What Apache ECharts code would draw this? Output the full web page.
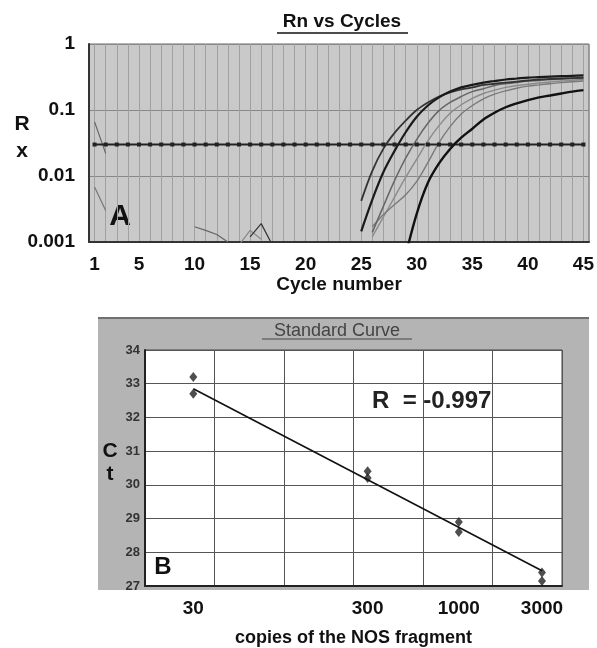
<!DOCTYPE html>
<html>
<head>
<meta charset="utf-8">
<script src="https://cdn.jsdelivr.net/npm/echarts@6/dist/echarts.min.js"></script>
<style>
html, body { margin: 0; padding: 0; background: #fff; }
#chart { width: 597px; height: 648px; }
</style>
</head>
<body>
<div id="chart"></div>
<script>
var FONT = "'Liberation Sans', Arial, sans-serif";

// ---- A: Rn vs Cycles ----
var cycleTicks = [1, 5, 10, 15, 20, 25, 30, 35, 40, 45];
var threshold = 0.03;
// curves, values read per cycle
var curve1 = [0.0042, 0.012, 0.026, 0.045, 0.069, 0.10, 0.13, 0.16, 0.185, 0.205, 0.22, 0.24, 0.25, 0.26, 0.27, 0.28, 0.29, 0.295, 0.30, 0.305, 0.31]; // from 25
var curve2 = [0.00145, 0.0044, 0.0115, 0.024, 0.046, 0.079, 0.117, 0.155, 0.19, 0.22, 0.24, 0.26, 0.275, 0.29, 0.30, 0.31, 0.315, 0.32, 0.325, 0.33, 0.335]; // from 25
var curve3 = [0.0014, 0.0035, 0.0085, 0.0186, 0.036, 0.063, 0.098, 0.13, 0.16, 0.19, 0.21, 0.235, 0.25, 0.26, 0.275, 0.28, 0.29, 0.295, 0.30, 0.30]; // from 26
var curve4 = [0.0012, 0.0024, 0.0048, 0.0095, 0.018, 0.034, 0.058, 0.089, 0.12, 0.15, 0.178, 0.20, 0.22, 0.235, 0.245, 0.257, 0.266, 0.275, 0.282, 0.29]; // from 26
var curve5 = [0.0017, 0.0026, 0.0037, 0.0052, 0.0083, 0.016, 0.032, 0.056, 0.087, 0.117, 0.148, 0.174, 0.195, 0.214, 0.23, 0.24, 0.25, 0.26, 0.268, 0.275]; // from 26
var curve6 = [0.00063, 0.0027, 0.0079, 0.0155, 0.0257, 0.038, 0.052, 0.072, 0.091, 0.11, 0.126, 0.141, 0.155, 0.166, 0.178, 0.19, 0.20]; // from 29
// baseline noise
var noise1 = [[1, 0.066], [2, 0.022]];
var noise2 = [[1, 0.0068], [2, 0.0030]];
var noise3 = [[10, 0.0017], [11, 0.0015], [12, 0.0013], [13, 0.001]];
var noise4 = [[15, 0.0012], [16, 0.0019], [17, 0.0009]];
var noise5 = [[14, 0.0009], [15, 0.0015], [16, 0.0011]];

// ---- B: Standard Curve ----
var copies = [30, 30, 300, 300, 1000, 1000, 3000, 3000];
var ctValues = [33.2, 32.7, 30.4, 30.2, 28.9, 28.6, 27.4, 27.15];
var fitCopies = [30, 3000];
var fitCt = [32.85, 27.45];
var copyTicks = [30, 300, 1000, 3000];

function fromCycle(start, values) {
	return values.map(function(v, i) { return [start + i, v]; });
}
function zip(xs, ys) {
	return xs.map(function(x, i) { return [x, ys[i]]; });
}
var thresholdData = [];
for (var c = 1; c <= 45; c++) thresholdData.push([c, threshold]);

function curve(data, color, width) {
	return {
		type: 'line', xAxisIndex: 0, yAxisIndex: 0, data: data,
		symbol: 'none', smooth: 0.35,
		lineStyle: { color: color, width: width }
	};
}
function noise(data, color) {
	return {
		type: 'line', xAxisIndex: 0, yAxisIndex: 0, data: data,
		symbol: 'none', lineStyle: { color: color, width: 1.2 }
	};
}

var option = {
	animation: false,
	grid: [
		{ left: 89, top: 44, width: 503, height: 198, show: true, backgroundColor: '#c9c9c9', borderColor: '#666', borderWidth: 1 },
		{ left: 145, top: 350, width: 417, height: 236, show: true, backgroundColor: '#fff', borderColor: '#444', borderWidth: 1 }
	],
	xAxis: [{
		gridIndex: 0, type: 'value', min: 0.5, max: 45.5, splitNumber: 45, minInterval: 1, maxInterval: 1,
		axisLine: { lineStyle: { color: '#333', width: 2 } },
		axisTick: { show: false },
		axisLabel: {
			fontFamily: FONT, fontWeight: 'bold', color: '#111', fontSize: 19, margin: 13,
			formatter: function(v) { return cycleTicks.indexOf(v) >= 0 ? String(v) : ''; }
		},
		splitLine: { show: true, lineStyle: { color: '#a0a0a0', width: 1 } },
		name: 'Cycle number', nameLocation: 'middle', nameGap: 33,
		nameTextStyle: { fontFamily: FONT, fontWeight: 'bold', color: '#111', fontSize: 19 }
	}, {
		gridIndex: 1, type: 'log', logBase: 10, min: 15.85, max: 3908,
		axisLine: { lineStyle: { color: '#222', width: 2 } },
		axisTick: { show: false },
		splitLine: { show: false },
		axisLabel: {
			customValues: copyTicks, fontFamily: FONT, fontWeight: 'bold', color: '#111', fontSize: 19, margin: 13,
			formatter: function(v) { return String(Math.round(v)); }
		},
		name: 'copies of the NOS fragment', nameLocation: 'middle', nameGap: 43,
		nameTextStyle: { fontFamily: FONT, fontWeight: 'bold', color: '#111', fontSize: 18 }
	}, {
		// equal column gridlines of the standard curve panel
		gridIndex: 1, type: 'value', min: 0, max: 6, interval: 1,
		axisLine: { show: false }, axisTick: { show: false }, axisLabel: { show: false },
		splitLine: { show: true, lineStyle: { color: '#555', width: 1 } }
	}],
	yAxis: [{
		gridIndex: 0, type: 'log', logBase: 10, min: 0.001, max: 1,
		axisLine: { show: true, lineStyle: { color: '#333', width: 2 } },
		axisTick: { show: false },
		axisLabel: {
			fontFamily: FONT, fontWeight: 'bold', color: '#111', fontSize: 19, margin: 14,
			formatter: function(v) { return String(+v.toFixed(3)); }
		},
		splitLine: { show: true, lineStyle: { color: '#888', width: 1 } }
	}, {
		gridIndex: 1, type: 'value', min: 27, max: 34, interval: 1,
		axisLine: { show: true, lineStyle: { color: '#222', width: 2 } },
		axisTick: { show: false },
		axisLabel: { fontFamily: FONT, fontWeight: 'bold', color: '#333', fontSize: 13, margin: 5 },
		splitLine: { show: true, lineStyle: { color: '#555', width: 1 } }
	}],
	graphic: [
		{ type: 'rect', z: -1, shape: { x: 98, y: 318, width: 491, height: 272 }, style: { fill: '#b4b4b4' } },
		{ type: 'line', shape: { x1: 98, y1: 318, x2: 589, y2: 318 }, style: { stroke: '#707070', lineWidth: 2 } },
		{ type: 'text', style: { text: 'Rn vs Cycles', x: 342, y: 22, textAlign: 'center', textVerticalAlign: 'middle', font: 'bold 19px ' + FONT, fill: '#111' } },
		{ type: 'line', shape: { x1: 277, y1: 33, x2: 408, y2: 33 }, style: { stroke: '#111', lineWidth: 1.5 } },
		{ type: 'text', style: { text: 'Standard Curve', x: 337, y: 331, textAlign: 'center', textVerticalAlign: 'middle', font: '18px ' + FONT, fill: '#444' } },
		{ type: 'line', shape: { x1: 262, y1: 339, x2: 412, y2: 339 }, style: { stroke: '#444', lineWidth: 1.2 } },
		{ type: 'text', style: { text: 'R\nx', x: 22, y: 138, textAlign: 'center', textVerticalAlign: 'middle', font: 'bold 21px ' + FONT, lineHeight: 27, fill: '#111' } },
		{ type: 'text', style: { text: 'C\nt', x: 110, y: 463, textAlign: 'center', textVerticalAlign: 'middle', font: 'bold 21px ' + FONT, lineHeight: 23, fill: '#111' } },
		{ type: 'text', style: { text: 'A', x: 120, y: 217, textAlign: 'center', textVerticalAlign: 'middle', font: 'bold 30px ' + FONT, fill: '#111' } },
		{ type: 'text', style: { text: 'B', x: 163, y: 567, textAlign: 'center', textVerticalAlign: 'middle', font: 'bold 24px ' + FONT, fill: '#111' } },
		{ type: 'text', style: { text: 'R  = -0.997', x: 372, y: 401, textAlign: 'left', textVerticalAlign: 'middle', font: 'bold 24px ' + FONT, fill: '#222' } }
	],
	series: [
		noise(noise1, '#666'),
		noise(noise2, '#777'),
		noise(noise3, '#666'),
		noise(noise5, '#888'),
		noise(noise4, '#333'),
		{
			type: 'line', xAxisIndex: 0, yAxisIndex: 0, data: thresholdData,
			symbol: 'rect', symbolSize: 4, showAllSymbol: true,
			itemStyle: { color: '#222' },
			lineStyle: { color: '#222', width: 2 }
		},
		curve(fromCycle(26, curve4), '#8a8a8a', 1.4),
		curve(fromCycle(26, curve5), '#7a7a7a', 1.4),
		curve(fromCycle(26, curve3), '#666', 1.5),
		curve(fromCycle(25, curve1), '#333', 1.8),
		curve(fromCycle(25, curve2), '#1a1a1a', 2.2),
		curve(fromCycle(29, curve6), '#111', 2.4),
		{
			type: 'line', xAxisIndex: 1, yAxisIndex: 1, data: zip(fitCopies, fitCt),
			symbol: 'none', lineStyle: { color: '#111', width: 1.6 }
		},
		{
			type: 'scatter', xAxisIndex: 1, yAxisIndex: 1, data: zip(copies, ctValues),
			symbol: 'diamond', symbolSize: [8, 10],
			itemStyle: { color: '#222' }
		}
	]
};

var chart = echarts.init(document.getElementById('chart'));
chart.setOption(option);
</script>
</body>
</html>
